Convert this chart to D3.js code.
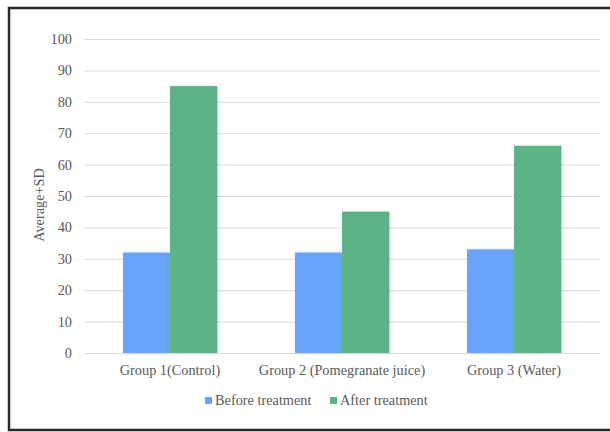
<!DOCTYPE html>
<html>
<head>
<meta charset="utf-8">
<script src="https://cdn.jsdelivr.net/npm/d3@7"></script>
<style>
  html, body { margin: 0; padding: 0; background: #fff; }
  svg { display: block; }
  svg text { fill: #595959; }
</style>
</head>
<body>
<svg id="chart" width="610" height="432"></svg>
<script>
// Group means (Average+SD) before and after treatment
const groups = ["Group 1(Control)", "Group 2 (Pomegranate juice)", "Group 3 (Water)"];
const seriesNames = ["Before treatment", "After treatment"];
const beforeValues = [32, 32, 33];
const afterValues = [85, 45, 66];
const yTicks = [0, 10, 20, 30, 40, 50, 60, 70, 80, 90, 100];
const colors = ["#67a4fb", "#5cb386"];
const FONT = "'Liberation Serif', 'Times New Roman', Times, serif";
const FS = 14.3;

const svg = d3.select("#chart");
const margin = { left: 84, right: 10, top: 39, bottom: 79 };
const W = 610, H = 432;

// Outer frame
svg.append("rect")
  .attr("x", 9).attr("y", 8)
  .attr("width", W + 10).attr("height", H - 10)
  .attr("fill", "#fff")
  .attr("stroke", "#2a2a2a").attr("stroke-width", 2.5);

const defs = svg.append("defs");
const f = defs.append("filter").attr("id", "shadow")
  .attr("x", "-10%").attr("y", "-10%").attr("width", "130%").attr("height", "120%");
f.append("feDropShadow").attr("dx", 1).attr("dy", 0.5).attr("stdDeviation", 1)
  .attr("flood-color", "#000").attr("flood-opacity", 0.25);

const x0 = d3.scaleBand().domain(groups).range([margin.left, W - margin.right]).paddingInner(0).paddingOuter(0);
const x1 = d3.scaleBand().domain(seriesNames).range([0, x0.bandwidth()]).paddingInner(0).paddingOuter(0.83);
const y = d3.scaleLinear().domain([0, 100]).range([H - margin.bottom, margin.top]);

// Gridlines and y tick labels
const yAxis = d3.axisLeft(y).tickValues(yTicks).tickSize(-(W - margin.right - margin.left)).tickPadding(12);
const gy = svg.append("g").attr("transform", `translate(${margin.left},0)`).call(yAxis)
  .attr("font-family", FONT);
gy.select(".domain").remove();
gy.selectAll(".tick line").attr("stroke", "#d9d9d9").attr("stroke-width", 1);
gy.selectAll(".tick text").attr("font-size", FS).attr("fill", "#595959");

// Bars
const rows = groups.map((g, i) => ({ group: g, values: [beforeValues[i], afterValues[i]] }));
const gBars = svg.append("g");
rows.forEach(r => {
  gBars.selectAll(null)
    .data(r.values.map((v, j) => ({ series: seriesNames[j], value: v, j })))
    .join("rect")
    .attr("x", d => x0(r.group) + x1(d.series))
    .attr("y", d => y(d.value))
    .attr("width", x1.bandwidth())
    .attr("height", d => y(0) - y(d.value))
    .attr("fill", d => colors[d.j])
    .attr("filter", "url(#shadow)");
});

// Category axis
const xAxis = d3.axisBottom(x0).tickSize(0).tickPadding(12);
const gx = svg.append("g").attr("transform", `translate(0,${y(0)})`).call(xAxis)
  .attr("font-family", FONT);
gx.select(".domain").attr("stroke", "#d9d9d9").attr("stroke-width", 1.2);
gx.selectAll(".tick text").attr("font-size", FS).attr("fill", "#595959");

// Y axis title
svg.append("text")
  .attr("transform", `translate(44,205) rotate(-90)`)
  .attr("text-anchor", "middle")
  .attr("font-family", FONT)
  .attr("font-size", FS)
  .text("Average+SD");

// Legend
const legendItems = [
  { name: seriesNames[0], color: colors[0], x: 205 },
  { name: seriesNames[1], color: colors[1], x: 330 }
];
const lg = svg.append("g").attr("font-family", FONT);
legendItems.forEach(it => {
  lg.append("rect").attr("x", it.x).attr("y", 397).attr("width", 7).attr("height", 7).attr("fill", it.color);
  lg.append("text").attr("x", it.x + 10).attr("y", 405).attr("font-size", FS).text(it.name);
});
</script>
</body>
</html>
